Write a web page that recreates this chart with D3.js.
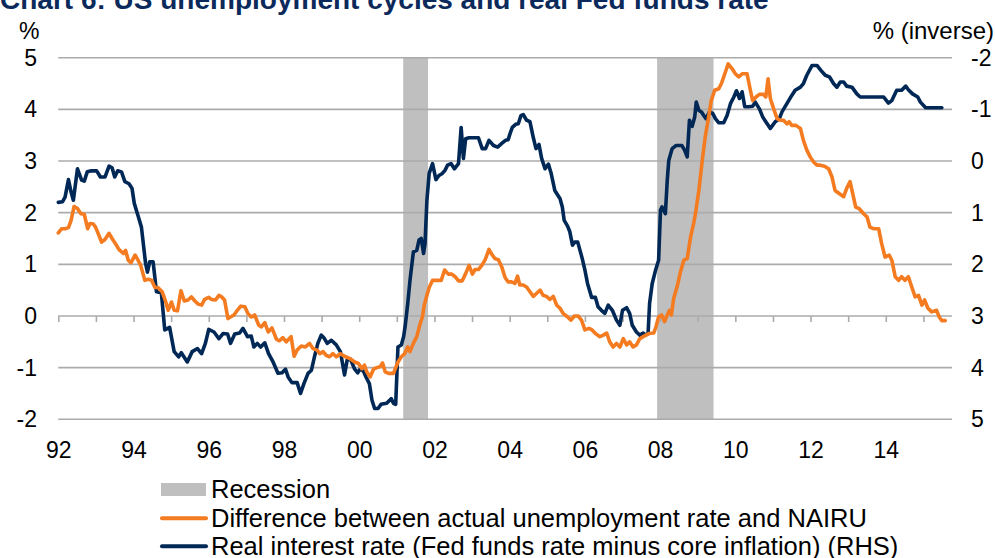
<!DOCTYPE html>
<html>
<head>
<meta charset="utf-8">
<script src="https://cdn.jsdelivr.net/npm/d3@7"></script>
<style>
  html, body { margin: 0; padding: 0; background: #ffffff; overflow: hidden; }
  svg { display: block; }
  text { font-family: "Liberation Sans", Arial, Helvetica, sans-serif; }
</style>
</head>
<body>
<svg id="chart" width="995" height="558"></svg>
<script>
// ---------------- DATA ----------------
const title = "Chart 6: US unemployment cycles and real Fed funds rate";
const leftUnitLabel = "%";
const rightUnitLabel = "% (inverse)";
const leftTicks = [-2, -1, 0, 1, 2, 3, 4, 5];
const rightTicks = [-2, -1, 0, 1, 2, 3, 4, 5];
const tickYears = d3.range(1992, 2016);
const labelYears = [1992, 1994, 1996, 1998, 2000, 2002, 2004, 2006, 2008, 2010, 2012, 2014];
const yearLabel = y => String(y % 100).padStart(2, "0");

// Recession periods [start, end] (decimal years)
const recessions = [[2001.17, 2001.83], [2007.92, 2009.42]];

// Difference between actual unemployment rate and NAIRU (LHS, %)
const unemploymentGap = [
[1992.00,1.61],[1992.09,1.69],[1992.18,1.69],[1992.27,1.71],[1992.34,1.85],[1992.42,2.12],[1992.51,2.08],[1992.60,1.98],
[1992.69,1.97],[1992.78,1.69],[1992.84,1.79],[1992.93,1.78],[1992.99,1.72],[1993.08,1.56],[1993.15,1.43],[1993.24,1.48],
[1993.35,1.60],[1993.43,1.50],[1993.52,1.40],[1993.61,1.29],[1993.73,1.21],[1993.79,1.27],[1993.86,1.08],[1993.93,1.03],
[1994.04,1.18],[1994.12,1.08],[1994.19,0.98],[1994.30,0.69],[1994.39,0.71],[1994.48,0.69],[1994.57,0.55],[1994.65,0.55],
[1994.76,0.47],[1994.85,0.29],[1994.92,0.11],[1995.01,0.27],[1995.08,0.11],[1995.17,0.10],[1995.26,0.49],[1995.35,0.29],
[1995.45,0.31],[1995.54,0.37],[1995.63,0.29],[1995.72,0.23],[1995.81,0.21],[1995.89,0.32],[1996.00,0.36],[1996.07,0.32],
[1996.18,0.31],[1996.27,0.40],[1996.34,0.37],[1996.42,0.31],[1996.51,-0.05],[1996.58,-0.02],[1996.67,0.02],[1996.76,0.11],
[1996.85,0.19],[1996.96,0.18],[1997.04,0.05],[1997.13,-0.02],[1997.22,0.02],[1997.33,-0.18],[1997.40,-0.21],[1997.49,-0.13],
[1997.58,-0.31],[1997.68,-0.23],[1997.80,-0.45],[1997.88,-0.48],[1997.97,-0.42],[1998.06,-0.50],[1998.19,-0.40],[1998.27,-0.78],
[1998.35,-0.66],[1998.46,-0.58],[1998.57,-0.60],[1998.68,-0.53],[1998.77,-0.63],[1998.88,-0.66],[1998.95,-0.73],[1999.04,-0.69],
[1999.12,-0.76],[1999.21,-0.79],[1999.30,-0.73],[1999.39,-0.79],[1999.50,-0.73],[1999.61,-0.78],[1999.74,-0.82],[1999.88,-0.89],
[1999.98,-0.92],[2000.07,-1.02],[2000.14,-0.95],[2000.20,-1.08],[2000.29,-1.18],[2000.38,-1.03],[2000.47,-1.00],[2000.56,-0.98],
[2000.62,-0.91],[2000.69,-1.08],[2000.78,-1.11],[2000.91,-1.11],[2001.03,-0.89],[2001.12,-0.79],[2001.21,-0.73],[2001.29,-0.60],
[2001.35,-0.69],[2001.44,-0.53],[2001.53,-0.40],[2001.62,-0.15],[2001.68,-0.02],[2001.73,0.21],[2001.80,0.40],[2001.86,0.55],
[2001.95,0.69],[2002.06,0.69],[2002.18,0.69],[2002.27,0.89],[2002.37,0.81],[2002.46,0.81],[2002.55,0.76],[2002.64,0.68],
[2002.74,0.68],[2002.83,0.82],[2002.92,0.98],[2003.01,0.81],[2003.08,0.90],[2003.17,0.90],[2003.26,0.98],[2003.35,1.09],
[2003.45,1.29],[2003.52,1.20],[2003.61,1.11],[2003.70,1.09],[2003.79,0.95],[2003.88,0.74],[2003.96,0.66],[2004.05,0.66],
[2004.14,0.63],[2004.21,0.77],[2004.27,0.60],[2004.36,0.60],[2004.45,0.56],[2004.54,0.47],[2004.63,0.38],[2004.72,0.44],
[2004.81,0.50],[2004.89,0.40],[2004.98,0.38],[2005.07,0.32],[2005.16,0.38],[2005.25,0.21],[2005.34,0.15],[2005.42,0.05],
[2005.54,-0.02],[2005.63,-0.08],[2005.72,0.00],[2005.82,0.00],[2005.91,-0.08],[2006.00,-0.27],[2006.11,-0.24],[2006.19,-0.27],
[2006.28,-0.34],[2006.40,-0.40],[2006.49,-0.37],[2006.58,-0.33],[2006.66,-0.50],[2006.75,-0.60],[2006.84,-0.53],[2006.93,-0.60],
[2007.02,-0.44],[2007.11,-0.56],[2007.19,-0.50],[2007.28,-0.60],[2007.37,-0.56],[2007.46,-0.44],[2007.55,-0.40],[2007.70,-0.34],
[2007.83,-0.33],[2007.89,-0.21],[2007.96,-0.02],[2008.04,0.02],[2008.12,-0.11],[2008.19,0.02],[2008.25,0.11],[2008.30,0.02],
[2008.36,0.34],[2008.45,0.56],[2008.54,0.85],[2008.63,1.08],[2008.72,1.11],[2008.81,1.53],[2008.89,1.79],[2008.94,1.98],
[2009.03,2.43],[2009.12,3.01],[2009.20,3.47],[2009.29,3.85],[2009.36,4.17],[2009.45,4.37],[2009.56,4.40],[2009.63,4.50],
[2009.72,4.69],[2009.81,4.88],[2009.91,4.79],[2010.00,4.69],[2010.09,4.63],[2010.19,4.69],[2010.31,4.69],[2010.40,4.37],
[2010.46,4.17],[2010.55,4.24],[2010.64,4.29],[2010.75,4.29],[2010.81,4.24],[2010.87,4.59],[2010.93,4.21],[2011.02,4.01],
[2011.11,3.82],[2011.19,3.79],[2011.28,3.79],[2011.37,3.72],[2011.43,3.76],[2011.50,3.69],[2011.61,3.69],[2011.73,3.63],
[2011.81,3.40],[2011.90,3.21],[2011.99,3.08],[2012.08,2.98],[2012.17,2.92],[2012.26,2.92],[2012.37,2.90],[2012.48,2.85],
[2012.57,2.69],[2012.65,2.43],[2012.76,2.37],[2012.88,2.31],[2012.96,2.47],[2013.05,2.60],[2013.12,2.37],[2013.20,2.11],
[2013.29,2.08],[2013.41,1.98],[2013.50,1.92],[2013.58,1.72],[2013.67,1.69],[2013.81,1.69],[2013.89,1.40],[2013.98,1.14],
[2014.09,1.18],[2014.16,1.08],[2014.25,0.76],[2014.34,0.69],[2014.42,0.76],[2014.51,0.69],[2014.60,0.76],[2014.69,0.56],
[2014.78,0.37],[2014.87,0.40],[2014.96,0.21],[2015.03,0.31],[2015.12,0.15],[2015.22,0.08],[2015.35,0.11],[2015.42,-0.02],
[2015.49,-0.09],[2015.58,-0.09]
];

// Real interest rate: Fed funds rate minus core inflation (RHS, %, inverted axis)
const realRate = [
[1992.00,0.80],[1992.11,0.79],[1992.18,0.70],[1992.27,0.36],[1992.34,0.60],[1992.40,0.76],[1992.51,0.15],[1992.62,0.37],
[1992.69,0.39],[1992.77,0.21],[1992.88,0.19],[1993.02,0.19],[1993.12,0.31],[1993.24,0.31],[1993.35,0.10],[1993.43,0.13],
[1993.50,0.31],[1993.58,0.19],[1993.68,0.21],[1993.77,0.40],[1993.88,0.44],[1993.96,0.53],[1994.02,0.82],[1994.12,1.06],
[1994.21,1.28],[1994.26,1.60],[1994.32,1.98],[1994.37,2.15],[1994.43,1.95],[1994.52,1.95],[1994.61,2.53],[1994.74,2.55],
[1994.83,3.27],[1994.96,3.22],[1995.08,3.69],[1995.20,3.79],[1995.27,3.71],[1995.43,3.89],[1995.56,3.69],[1995.70,3.63],
[1995.81,3.73],[1995.91,3.53],[1996.00,3.26],[1996.14,3.31],[1996.27,3.44],[1996.38,3.34],[1996.50,3.35],[1996.58,3.53],
[1996.69,3.35],[1996.82,3.33],[1996.91,3.24],[1997.03,3.40],[1997.13,3.39],[1997.20,3.60],[1997.29,3.53],[1997.38,3.60],
[1997.49,3.52],[1997.59,3.73],[1997.71,3.89],[1997.84,4.11],[1997.95,4.10],[1998.04,4.03],[1998.11,4.18],[1998.21,4.29],
[1998.35,4.29],[1998.44,4.50],[1998.53,4.31],[1998.64,4.11],[1998.73,4.05],[1998.81,3.79],[1998.90,3.53],[1998.99,3.37],
[1999.06,3.42],[1999.15,3.53],[1999.26,3.47],[1999.39,3.56],[1999.50,3.69],[1999.61,4.14],[1999.68,3.85],[1999.77,3.84],
[1999.88,4.03],[1999.96,4.10],[2000.03,4.02],[2000.12,4.08],[2000.18,4.18],[2000.27,4.31],[2000.34,4.63],[2000.41,4.79],
[2000.50,4.79],[2000.58,4.71],[2000.73,4.69],[2000.85,4.60],[2000.91,4.69],[2000.97,4.71],[2001.03,3.60],[2001.12,3.56],
[2001.18,3.40],[2001.22,3.21],[2001.29,2.76],[2001.35,2.31],[2001.44,1.76],[2001.53,1.73],[2001.59,1.53],[2001.65,1.50],
[2001.71,1.79],[2001.75,1.60],[2001.80,0.76],[2001.86,0.24],[2001.95,0.05],[2002.04,0.36],[2002.12,0.28],[2002.21,0.24],
[2002.28,0.18],[2002.35,0.08],[2002.44,0.05],[2002.53,0.15],[2002.64,0.05],[2002.71,-0.65],[2002.77,-0.05],[2002.83,-0.43],
[2002.92,-0.45],[2003.04,-0.45],[2003.17,-0.45],[2003.27,-0.24],[2003.36,-0.24],[2003.45,-0.40],[2003.57,-0.30],[2003.68,-0.27],
[2003.79,-0.34],[2003.89,-0.40],[2003.96,-0.41],[2004.01,-0.53],[2004.07,-0.65],[2004.16,-0.71],[2004.23,-0.72],[2004.30,-0.88],
[2004.36,-0.90],[2004.45,-0.79],[2004.54,-0.76],[2004.63,-0.45],[2004.70,-0.24],[2004.78,-0.32],[2004.85,-0.05],[2004.94,0.15],
[2005.03,0.06],[2005.10,0.23],[2005.20,0.57],[2005.34,0.73],[2005.40,0.89],[2005.45,1.15],[2005.54,1.26],[2005.60,1.37],
[2005.67,1.63],[2005.73,1.57],[2005.81,1.57],[2005.87,1.73],[2005.93,1.89],[2006.00,2.11],[2006.07,2.37],[2006.18,2.64],
[2006.28,2.64],[2006.35,2.82],[2006.44,2.89],[2006.53,2.95],[2006.62,2.79],[2006.73,2.89],[2006.84,3.08],[2006.93,3.18],
[2007.00,2.89],[2007.11,2.84],[2007.19,2.95],[2007.26,3.18],[2007.37,3.31],[2007.46,3.37],[2007.55,3.33],[2007.61,3.37],
[2007.68,3.34],[2007.72,2.76],[2007.79,2.37],[2007.88,2.11],[2007.96,1.92],[2008.01,0.95],[2008.05,0.89],[2008.14,1.02],
[2008.19,0.37],[2008.23,-0.01],[2008.32,-0.24],[2008.42,-0.30],[2008.58,-0.30],[2008.65,-0.21],[2008.72,-0.08],[2008.78,-0.79],
[2008.85,-0.67],[2008.92,-0.85],[2008.96,-1.14],[2009.03,-0.98],[2009.10,-0.95],[2009.16,-0.88],[2009.22,-0.82],[2009.31,-0.95],
[2009.40,-0.92],[2009.47,-0.82],[2009.56,-0.74],[2009.69,-0.74],[2009.78,-0.88],[2009.87,-1.11],[2009.96,-1.24],[2010.03,-1.36],
[2010.11,-1.21],[2010.18,-1.34],[2010.25,-1.05],[2010.35,-1.05],[2010.46,-1.06],[2010.53,-1.14],[2010.64,-1.01],[2010.73,-0.85],
[2010.81,-0.76],[2010.93,-0.63],[2010.99,-0.69],[2011.06,-0.76],[2011.17,-0.82],[2011.24,-0.95],[2011.37,-1.11],[2011.50,-1.27],
[2011.59,-1.37],[2011.73,-1.43],[2011.81,-1.50],[2011.90,-1.66],[2012.04,-1.85],[2012.17,-1.85],[2012.28,-1.75],[2012.39,-1.66],
[2012.50,-1.63],[2012.61,-1.50],[2012.70,-1.43],[2012.79,-1.53],[2012.88,-1.53],[2012.96,-1.45],[2013.10,-1.43],[2013.23,-1.30],
[2013.32,-1.24],[2013.54,-1.24],[2013.72,-1.24],[2013.94,-1.24],[2014.07,-1.12],[2014.16,-1.17],[2014.29,-1.37],[2014.42,-1.37],
[2014.53,-1.45],[2014.60,-1.38],[2014.71,-1.30],[2014.85,-1.24],[2014.92,-1.14],[2015.06,-1.03],[2015.22,-1.03],[2015.49,-1.03]
];

const legendItems = [
  { key: "recession", label: "Recession" },
  { key: "gap", label: "Difference between actual unemployment rate and NAIRU" },
  { key: "real", label: "Real interest rate (Fed funds rate minus core inflation) (RHS)" }
];

// ---------------- STYLE ----------------
const COLORS = { gap: "#F47B20", real: "#002856", recession: "#BFBFBF", grid: "#ABABAB", title: "#0B2A5B", text: "#000000" };

// ---------------- CHART ----------------
const svg = d3.select("#chart");
const plot = { left: 58.3, right: 952, top: 57.7, bottom: 419.3 };

const x = d3.scaleLinear().domain([1992, 2015.76]).range([plot.left, plot.right]);
const yL = d3.scaleLinear().domain([-2, 5]).range([plot.bottom, plot.top]);
const yR = d3.scaleLinear().domain([-2, 5]).range([plot.top, plot.bottom]);

// Title (partly cut at top, as in the source)
svg.append("text").attr("x", 0).attr("y", 9)
  .attr("font-size", 28).attr("font-weight", "bold").attr("fill", COLORS.title)
  .text(title);

// Unit labels
svg.append("text").attr("x", 19).attr("y", 39).attr("font-size", 23).attr("fill", COLORS.text).text(leftUnitLabel);
svg.append("text").attr("x", 994).attr("y", 39).attr("text-anchor", "end").attr("font-size", 24).attr("fill", COLORS.text).text(rightUnitLabel);

// Recession bars
svg.append("g").selectAll("rect").data(recessions).join("rect")
  .attr("x", d => x(d[0])).attr("width", d => x(d[1]) - x(d[0]))
  .attr("y", plot.top).attr("height", plot.bottom - plot.top)
  .attr("fill", COLORS.recession);

// Gridlines
svg.append("g").selectAll("line").data(leftTicks).join("line")
  .attr("x1", plot.left).attr("x2", plot.right)
  .attr("y1", d => yL(d)).attr("y2", d => yL(d))
  .attr("stroke", COLORS.grid).attr("stroke-width", 1.6);

// X axis tick marks at zero line
const xTickAxis = d3.axisBottom(x).tickValues(tickYears).tickSize(6).tickFormat("");
const gxt = svg.append("g").attr("transform", `translate(0,${yL(0)})`).call(xTickAxis);
gxt.select(".domain").remove();
gxt.selectAll(".tick line").attr("stroke", COLORS.grid).attr("stroke-width", 1.6);

// X axis labels at bottom
const xLabelAxis = d3.axisBottom(x).tickValues(labelYears).tickSize(0).tickPadding(0).tickFormat(yearLabel);
const gxl = svg.append("g").attr("transform", `translate(0,442)`).call(xLabelAxis);
gxl.select(".domain").remove();
gxl.selectAll("text").attr("font-size", 23).attr("font-family", "Liberation Sans, Arial, sans-serif")
  .attr("fill", COLORS.text).attr("dy", "0.71em").attr("y", 0);

// Left axis labels
const gl = svg.append("g").attr("transform", `translate(40,0)`)
  .call(d3.axisLeft(yL).tickValues(leftTicks).tickSize(0).tickPadding(3).tickFormat(d => String(d)));
gl.select(".domain").remove();
gl.selectAll("text").attr("font-size", 23).attr("font-family", "Liberation Sans, Arial, sans-serif").attr("fill", COLORS.text);

// Right axis labels (inverse)
const gr = svg.append("g").attr("transform", `translate(968,0)`)
  .call(d3.axisRight(yR).tickValues(rightTicks).tickSize(0).tickPadding(3).tickFormat(d => String(d)));
gr.select(".domain").remove();
gr.selectAll("text").attr("font-size", 23).attr("font-family", "Liberation Sans, Arial, sans-serif").attr("fill", COLORS.text);

// Lines
const lineR = d3.line().x(d => x(d[0])).y(d => yR(d[1]));
const lineL = d3.line().x(d => x(d[0])).y(d => yL(d[1]));

svg.append("path").datum(realRate).attr("d", lineR)
  .attr("fill", "none").attr("stroke", COLORS.real).attr("stroke-width", 3.6)
  .attr("stroke-linejoin", "round").attr("stroke-linecap", "round");

svg.append("path").datum(unemploymentGap).attr("d", lineL)
  .attr("fill", "none").attr("stroke", COLORS.gap).attr("stroke-width", 3.6)
  .attr("stroke-linejoin", "round").attr("stroke-linecap", "round");

// Legend
const legendBaselines = [498, 526.5, 554.5];
const lg = svg.append("g");
legendItems.forEach((item, i) => {
  const by = legendBaselines[i];
  if (item.key === "recession") {
    lg.append("rect").attr("x", 161).attr("y", by - 15).attr("width", 45).attr("height", 13).attr("fill", COLORS.recession);
  } else {
    lg.append("line").attr("x1", 162).attr("x2", 206).attr("y1", by - 8.3).attr("y2", by - 8.3)
      .attr("stroke", COLORS[item.key]).attr("stroke-width", 4).attr("stroke-linecap", "round");
  }
  lg.append("text").attr("x", 211).attr("y", by).attr("font-size", 25.5).attr("fill", COLORS.text).text(item.label);
});
</script>
</body>
</html>
